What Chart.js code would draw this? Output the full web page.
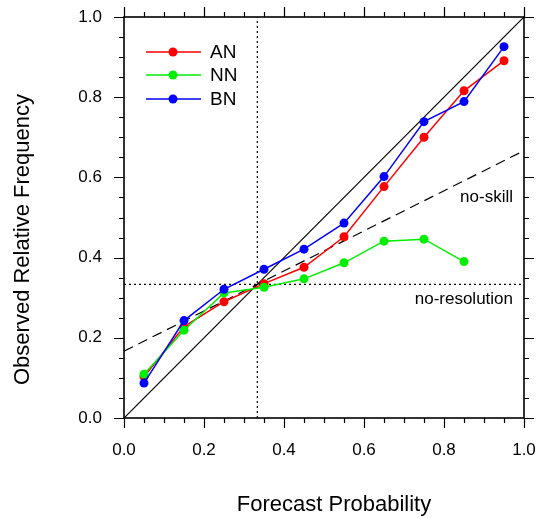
<!DOCTYPE html>
<html>
<head>
<meta charset="utf-8">
<script src="https://cdn.jsdelivr.net/npm/chart.js@4.4.0/dist/chart.umd.min.js"></script>
<style>
  body { margin: 0; background: #fff; }
  canvas { display: block; }
</style>
</head>
<body>
<canvas id="chart" width="537" height="518"></canvas>
<script>
// forecast probability bins (centres)
const bins = [0.05, 0.15, 0.25, 0.35, 0.45, 0.55, 0.65, 0.75, 0.85, 0.95];
// observed relative frequency per category
const anValues = [0.103, 0.228, 0.290, 0.335, 0.376, 0.452, 0.577, 0.700, 0.816, 0.891];
const nnValues = [0.109, 0.219, 0.312, 0.326, 0.347, 0.387, 0.441, 0.446, 0.390];
const bnValues = [0.087, 0.243, 0.321, 0.371, 0.421, 0.486, 0.602, 0.739, 0.789, 0.926];
const seriesNames = ['AN', 'NN', 'BN'];
const seriesColors = ['#ff0000', '#00ee00', '#0000ff'];
const tickLabels = ['0.0', '0.2', '0.4', '0.6', '0.8', '1.0'];
const xTitle = 'Forecast Probability';
const yTitle = 'Observed Relative Frequency';
const clim = 1 / 3; // climatological frequency

function toPoints(xs, ys) {
    return ys.map(function (y, i) { return { x: xs[i], y: y }; });
}

// reference lines
const perfectLine = [{ x: 0, y: 0 }, { x: 1, y: 1 }];
const noSkillLine = [{ x: 0, y: clim / 2 }, { x: 1, y: (1 + clim) / 2 }];
const noResLine = [{ x: 0, y: clim }, { x: 1, y: clim }];
const climLine = [{ x: clim, y: 0 }, { x: clim, y: 1 }];

function refSet(data, dash) {
    return {
        label: '', data: data, showLine: true, borderColor: '#000', borderWidth: 1.2,
        borderDash: dash, pointRadius: 0, pointHoverRadius: 0, order: 10
    };
}

const series = [anValues, nnValues, bnValues].map(function (vals, i) {
    return {
        label: seriesNames[i],
        data: toPoints(bins, vals),
        showLine: true,
        borderColor: seriesColors[i],
        backgroundColor: seriesColors[i],
        borderWidth: 1.5,
        pointRadius: 4.5,
        pointBorderWidth: 0,
        order: 3 - i
    };
});

const FONT = '"Liberation Sans", Arial, sans-serif';

// frame + tick marks on all four sides, NCL style, plus axis titles
const frameTicks = {
    id: 'frameTicks',
    afterDraw: function (chart) {
        const ctx = chart.ctx;
        const xs = chart.scales.x, ys = chart.scales.y;
        const a = chart.chartArea;
        ctx.save();
        ctx.strokeStyle = '#000';
        ctx.lineWidth = 1.6;
        ctx.strokeRect(a.left, a.top, a.right - a.left, a.bottom - a.top);
        ctx.lineWidth = 1.2;
        for (let i = 0; i <= 20; i++) {
            const len = (i % 4 === 0) ? 10 : 5;
            const px = Math.round(xs.getPixelForValue(i * 0.05)) + 0.5;
            const py = Math.round(ys.getPixelForValue(i * 0.05)) + 0.5;
            ctx.beginPath();
            ctx.moveTo(px, a.bottom); ctx.lineTo(px, a.bottom + len);
            ctx.moveTo(px, a.top); ctx.lineTo(px, a.top - len);
            ctx.moveTo(a.left, py); ctx.lineTo(a.left - len, py);
            ctx.moveTo(a.right, py); ctx.lineTo(a.right + len, py);
            ctx.stroke();
        }
        // axis titles (NCL centres them a little off the plot middle)
        ctx.fillStyle = '#000';
        ctx.font = '22px ' + FONT;
        ctx.textAlign = 'center';
        ctx.textBaseline = 'middle';
        ctx.fillText(xTitle, (a.left + a.right) / 2 + 10, 505);
        ctx.translate(23, (a.top + a.bottom) / 2 + 22);
        ctx.rotate(-Math.PI / 2);
        ctx.fillText(yTitle, 0, 0);
        ctx.restore();
    }
};

// legend inside the plot + line annotations
const extras = {
    id: 'extras',
    afterDatasetsDraw: function (chart) {
        const ctx = chart.ctx;
        const xs = chart.scales.x, ys = chart.scales.y;
        ctx.save();
        ctx.font = '17px ' + FONT;
        ctx.fillStyle = '#000';
        ctx.textAlign = 'right';
        ctx.textBaseline = 'middle';
        ctx.fillText('no-skill', xs.getPixelForValue(0.9725), ys.getPixelForValue(0.551));
        ctx.fillText('no-resolution', xs.getPixelForValue(0.9725), ys.getPixelForValue(0.297));

        ctx.font = '19px ' + FONT;
        ctx.textAlign = 'left';
        const rows = [52, 75, 99];
        for (let i = 0; i < seriesNames.length; i++) {
            const y = rows[i];
            ctx.strokeStyle = seriesColors[i];
            ctx.fillStyle = seriesColors[i];
            ctx.lineWidth = 1.5;
            ctx.beginPath();
            ctx.moveTo(146, y); ctx.lineTo(201, y);
            ctx.stroke();
            ctx.beginPath();
            ctx.arc(173, y, 4.5, 0, Math.PI * 2);
            ctx.fill();
            ctx.fillStyle = '#000';
            ctx.fillText(seriesNames[i], 210, y + 1);
        }
        ctx.restore();
    }
};

const tickFont = { family: FONT, size: 17 };

new Chart(document.getElementById('chart').getContext('2d'), {
    type: 'scatter',
    data: {
        datasets: series.concat([
            refSet(perfectLine, []),
            refSet(noSkillLine, [10, 6]),
            refSet(noResLine, [2, 3]),
            refSet(climLine, [2, 3])
        ])
    },
    options: {
        responsive: false,
        animation: false,
        devicePixelRatio: 1,
        layout: { padding: { top: 17, right: 13, left: 0, bottom: 0 } },
        plugins: { legend: { display: false }, tooltip: { enabled: false } },
        scales: {
            x: {
                type: 'linear', min: 0, max: 1,
                grid: { display: false }, border: { display: false },
                ticks: {
                    stepSize: 0.2, padding: 14, color: '#000', font: tickFont,
                    callback: function (v) { return tickLabels[Math.round(v * 5)]; }
                },
                afterFit: function (scale) {
                    scale.height = 100;
                    scale.paddingLeft = 0;
                    scale.paddingRight = 0;
                }
            },
            y: {
                type: 'linear', min: 0, max: 1,
                grid: { display: false }, border: { display: false },
                ticks: {
                    stepSize: 0.2, padding: 14, color: '#000', font: tickFont,
                    callback: function (v) { return tickLabels[Math.round(v * 5)]; }
                },
                afterFit: function (scale) {
                    scale.width = 124;
                    scale.paddingTop = 0;
                    scale.paddingBottom = 0;
                }
            }
        }
    },
    plugins: [frameTicks, extras]
});
</script>
</body>
</html>
